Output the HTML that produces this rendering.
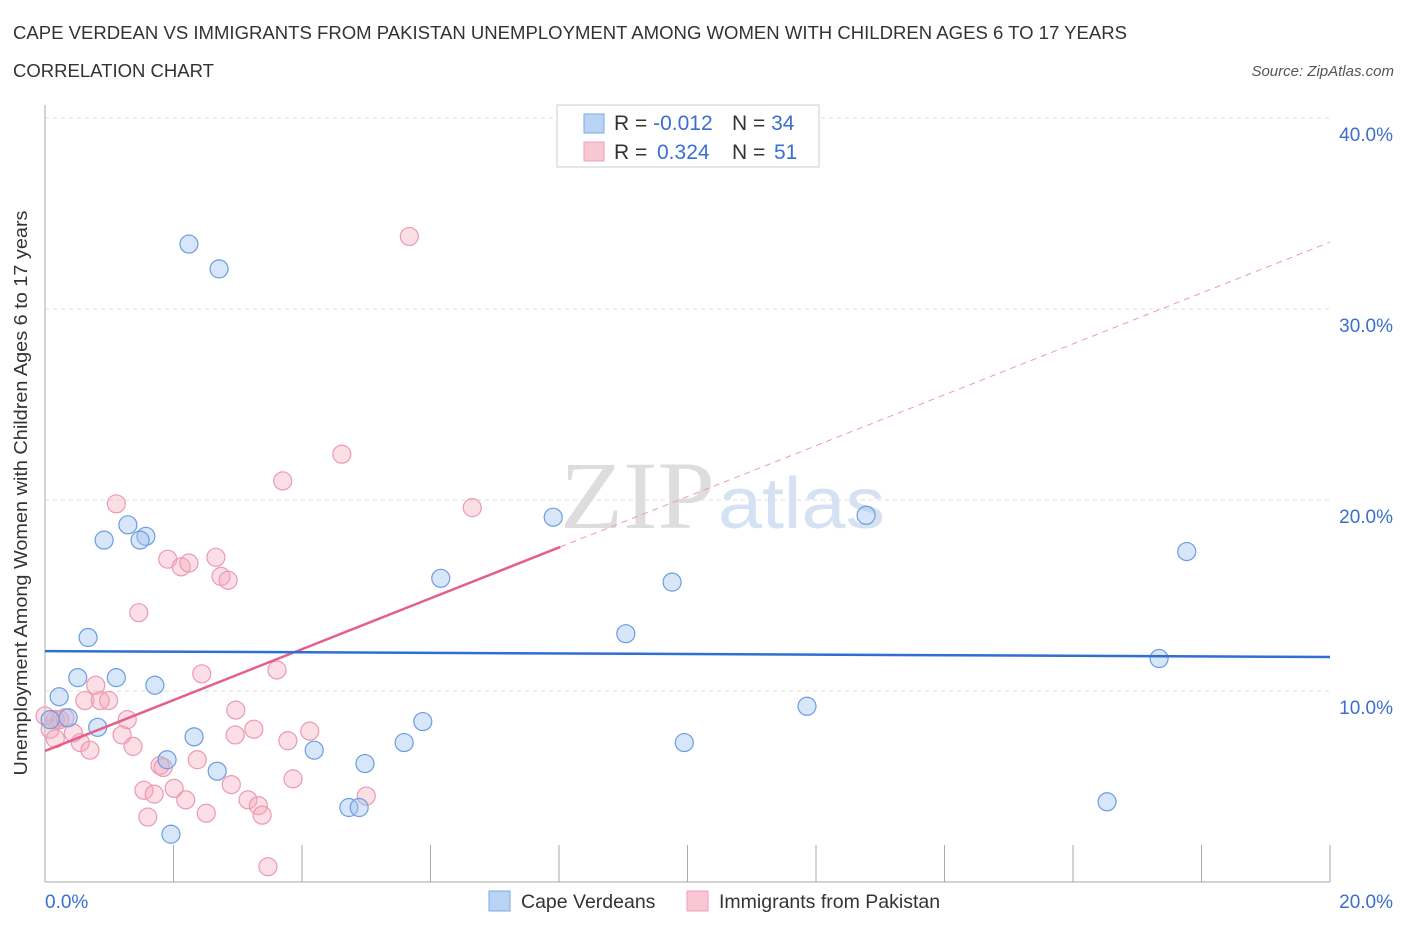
<!DOCTYPE html>
<html><head><meta charset="utf-8"><style>
body{margin:0;background:#fff;font-family:"Liberation Sans",sans-serif;}
</style></head><body>
<svg width="1406" height="930" xmlns="http://www.w3.org/2000/svg" id="svg" font-family="Liberation Sans, sans-serif">
<text x="13" y="39" font-size="18" fill="#333" textLength="1114" lengthAdjust="spacingAndGlyphs">CAPE VERDEAN VS IMMIGRANTS FROM PAKISTAN UNEMPLOYMENT AMONG WOMEN WITH CHILDREN AGES 6 TO 17 YEARS</text>
<text x="13" y="77" font-size="18" fill="#333" textLength="201" lengthAdjust="spacingAndGlyphs">CORRELATION CHART</text>
<text x="1394" y="76" font-size="15" fill="#555" font-style="italic" text-anchor="end">Source: ZipAtlas.com</text>
<g id="grid"></g>
<text x="560" y="528" font-size="96" fill="#ddd" font-family="Liberation Serif, serif" textLength="155" lengthAdjust="spacingAndGlyphs">ZIP</text>
<text x="718" y="528" font-size="72" fill="#d5e2f3" textLength="167" lengthAdjust="spacingAndGlyphs">atlas</text>
<g id="marks"></g>
<text x="27" y="493" font-size="18" fill="#333" text-anchor="middle" textLength="565" lengthAdjust="spacingAndGlyphs" transform="rotate(-90 27 493)">Unemployment Among Women with Children Ages 6 to 17 years</text>
<g>
<rect x="557" y="105" width="262" height="62" fill="#fff" stroke="#ccc"/>
<rect x="584" y="114" width="20" height="19" fill="#b9d3f5" stroke="#7fa8df"/>
<rect x="584" y="142" width="20" height="19" fill="#f9c6d4" stroke="#eea0b6"/>
<text x="614" y="130" font-size="21" fill="#333">R = <tspan fill="#3b6fcf">-0.012</tspan><tspan x="732">N = </tspan><tspan fill="#3b6fcf">34</tspan></text>
<text x="614" y="159" font-size="21" fill="#333">R = <tspan fill="#3b6fcf" x="657">0.324</tspan><tspan x="732">N = </tspan><tspan fill="#3b6fcf" x="774">51</tspan></text>
</g>
<g>
<rect x="489" y="891" width="21" height="20" fill="#b9d3f5" stroke="#7fa8df"/>
<text x="521" y="908" font-size="19.5" fill="#333">Cape Verdeans</text>
<rect x="687" y="891" width="21" height="20" fill="#f9c6d4" stroke="#eea0b6"/>
<text x="719" y="908" font-size="19.5" fill="#333">Immigrants from Pakistan</text>
</g>
</svg>
<script>
const yTicks=[10,20,30,40];
const yTickLabels=["10.0%","20.0%","30.0%","40.0%"];
const xTicks=[0,2,4,6,8,10,12,14,16,18,20];
const blueX=[2.24,2.71,1.29,0.92,1.57,1.48,0.67,0.51,1.11,0.22,1.71,0.82,0.36,2.32,1.90,2.68,1.96,4.19,4.98,4.73,4.89,5.59,5.88,6.16,7.91,9.04,9.76,9.95,11.86,12.78,17.77,17.34,16.53,0.08];
const blueY=[33.4,32.1,18.7,17.9,18.1,17.9,12.8,10.7,10.7,9.7,10.3,8.1,8.6,7.6,6.4,5.8,2.5,6.9,6.2,3.9,3.9,7.3,8.4,15.9,19.1,13.0,15.7,7.3,9.2,19.2,17.3,11.7,4.2,8.5];
const pinkX=[5.67,4.62,3.70,6.65,1.11,1.91,2.12,2.24,2.66,2.74,2.85,1.46,2.44,3.61,0.79,0.62,0.86,0.99,2.97,1.28,3.25,2.96,4.12,3.78,1.20,1.37,0.55,0.70,0.44,2.37,1.79,1.84,2.90,3.86,1.54,1.70,2.01,2.19,2.51,1.60,3.16,3.32,3.38,5.00,3.47,0.16,0.08,0.23,0.31,0.0,0.16];
const pinkY=[33.8,22.4,21.0,19.6,19.8,16.9,16.5,16.7,17.0,16.0,15.8,14.1,10.9,11.1,10.3,9.5,9.5,9.5,9.0,8.5,8.0,7.7,7.9,7.4,7.7,7.1,7.3,6.9,7.8,6.4,6.1,6.0,5.1,5.4,4.8,4.6,4.9,4.3,3.6,3.4,4.3,4.0,3.5,4.5,0.8,8.5,8.0,8.5,8.6,8.7,7.5];
const blueTrend=[12.09,11.78];
const pinkTrend=[6.86,33.5];
const pinkSolidEnd=8.02;
const NS="http://www.w3.org/2000/svg";
const X=v=>45+v*64.25, Y=v=>882-v*19.1;
function mk(p,t,a){const e=document.createElementNS(NS,t);for(const k in a)e.setAttribute(k,a[k]);p.appendChild(e);return e;}
const g=document.getElementById('grid'), m=document.getElementById('marks');
yTicks.forEach((t,i)=>{
 const l=mk(g,'line',{x1:45,x2:1330,y1:Y(t),y2:Y(t),stroke:'#ddd','stroke-dasharray':'4,4'});
 
 
 const tx=mk(g,'text',{x:1393,y:Y(t)+23,'font-size':19,fill:'#3b6fcf','text-anchor':'end'});
 tx.textContent=yTickLabels[i];
 
 
});
const a1=mk(g,'line',{x1:45,x2:45,y1:105,y2:882,stroke:'#aaa'});


const a2=mk(g,'line',{x1:45,x2:1330,y1:882,y2:882,stroke:'#aaa'});


xTicks.forEach(t=>{const l=mk(g,'line',{x1:X(t),x2:X(t),y1:845,y2:882,stroke:'#aaa'});
 
 });
[[0,'0.0%',45,'start'],[20,'20.0%',1393,'end']].forEach(d=>{const tx=mk(g,'text',{x:d[2],y:908,'font-size':19,fill:'#3b6fcf','text-anchor':d[3]});tx.textContent=d[1];
 
 });
pinkX.forEach((v,i)=>{const c=mk(m,'circle',{cx:X(v),cy:Y(pinkY[i]),r:9,fill:'rgba(244,168,190,0.38)',stroke:'#eb9ab2','stroke-width':1.2});
 
 });
blueX.forEach((v,i)=>{const c=mk(m,'circle',{cx:X(v),cy:Y(blueY[i]),r:9,fill:'rgba(160,196,240,0.42)',stroke:'#6b9de0','stroke-width':1.2});
 
 });
const pe=pinkTrend[0]+(pinkTrend[1]-pinkTrend[0])*pinkSolidEnd/20;
const d1=mk(m,'line',{x1:X(pinkSolidEnd),y1:Y(pe),x2:X(20),y2:Y(pinkTrend[1]),stroke:'#eb9ab2','stroke-dasharray':'6,5','stroke-width':1});


const s1=mk(m,'line',{x1:X(0),y1:Y(pinkTrend[0]),x2:X(pinkSolidEnd),y2:Y(pe),stroke:'#e4608a','stroke-width':2.5});


const b1=mk(m,'line',{x1:X(0),y1:Y(blueTrend[0]),x2:X(20),y2:Y(blueTrend[1]),stroke:'#2f6fd0','stroke-width':2.5});


</script>
</body></html>
